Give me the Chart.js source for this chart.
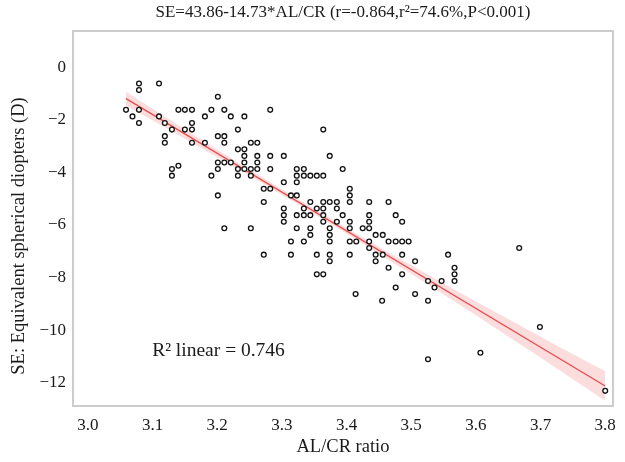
<!DOCTYPE html>
<html>
<head>
<meta charset="utf-8">
<script src="https://cdn.jsdelivr.net/npm/chart.js@4"></script>
<style>
  html, body { margin: 0; padding: 0; background: #fff; }
  #wrap { width: 625px; height: 462px; }
</style>
</head>
<body>
<div id="wrap"><canvas id="chart" width="625" height="462"></canvas></div>
<script>
// SE values (D), one entry per row of points
const seRows = [-0.625, -0.875, -1.125, -1.625, -1.875, -2.125, -2.375, -2.625, -2.875, -3.125,
    -3.375, -3.625, -3.75, -3.875, -4.125, -4.375, -4.625, -4.875, -5.125, -5.375,
    -5.625, -5.875, -6.125, -6.375, -6.625, -6.875, -7.125, -7.375, -7.625, -7.875,
    -8.125, -8.375, -8.625, -8.875, -9.875, -10.85, -11.1, -12.3];

// AL/CR ratios for each SE row
const alcrRows = [
    [3.079, 3.110],
    [3.079],
    [3.201],
    [3.059, 3.079, 3.140, 3.150, 3.161, 3.191, 3.211, 3.282],
    [3.069, 3.110, 3.181, 3.221, 3.242],
    [3.079, 3.119, 3.161],
    [3.130, 3.150, 3.161, 3.232, 3.364],
    [3.119, 3.201, 3.211],
    [3.119, 3.161, 3.181, 3.211, 3.252, 3.262],
    [3.232, 3.242],
    [3.242, 3.262, 3.282, 3.303, 3.374],
    [3.201, 3.211, 3.221, 3.242, 3.262],
    [3.140],
    [3.130, 3.201, 3.232, 3.242, 3.252, 3.262, 3.282, 3.323, 3.334, 3.394],
    [3.130, 3.191, 3.232, 3.252, 3.323, 3.334, 3.344, 3.354, 3.364],
    [3.303, 3.323],
    [3.272, 3.282, 3.405],
    [3.201, 3.314, 3.323, 3.405],
    [3.272, 3.344, 3.364, 3.374, 3.385, 3.405, 3.435, 3.465],
    [3.303, 3.334, 3.354, 3.364, 3.385],
    [3.303, 3.323, 3.334, 3.344, 3.364, 3.394, 3.435, 3.476],
    [3.303, 3.364, 3.385, 3.405, 3.435, 3.486],
    [3.211, 3.252, 3.323, 3.344, 3.374, 3.405, 3.425, 3.435],
    [3.344, 3.374, 3.445, 3.456],
    [3.314, 3.334, 3.374, 3.405, 3.415, 3.435, 3.465, 3.476, 3.486, 3.496],
    [3.435, 3.667],
    [3.272, 3.314, 3.354, 3.374, 3.405, 3.445, 3.456, 3.486, 3.557],
    [3.374, 3.445, 3.506],
    [3.465, 3.567],
    [3.354, 3.364, 3.486, 3.567],
    [3.526, 3.547, 3.567],
    [3.476, 3.536],
    [3.414, 3.506],
    [3.455, 3.526],
    [3.699],
    [3.607],
    [3.526],
    [3.800]
];

// Fitted line from the title: SE = 43.86 - 14.73 * AL/CR
const fitIntercept = 43.86;
const fitSlope = -14.73;
const fitX = [3.059, 3.800];

// 95% CI band half-width (D)
const bandX = [3.059, 3.15, 3.25, 3.35, 3.45, 3.55, 3.65, 3.72, 3.80];
const bandHalf = [0.26, 0.18, 0.12, 0.10, 0.13, 0.21, 0.33, 0.43, 0.56];

const xTicks = [3.0, 3.1, 3.2, 3.3, 3.4, 3.5, 3.6, 3.7, 3.8];
const yTicks = [0, -2, -4, -6, -8, -10, -12];

const titleText = 'SE=43.86-14.73*AL/CR (r=-0.864,r\u00b2=74.6%,P<0.001)';
const r2Text = 'R\u00b2 linear = 0.746';

const serif = '"Liberation Serif", "DejaVu Serif", serif';

// Build point list
const points = [];
seRows.forEach((se, i) => {
    alcrRows[i].forEach(r => points.push({ x: r, y: se }));
});

const fitLine = fitX.map(x => ({ x: x, y: fitIntercept + fitSlope * x }));
const bandLow = bandX.map((x, i) => ({ x: x, y: fitIntercept + fitSlope * x - bandHalf[i] }));
const bandHigh = bandX.map((x, i) => ({ x: x, y: fitIntercept + fitSlope * x + bandHalf[i] }));

// Frame and free text
const decorPlugin = {
    id: 'decor',
    beforeDatasetsDraw(chart) {
        const { ctx, chartArea: a } = chart;
        ctx.save();
        ctx.strokeStyle = '#cccccc';
        ctx.lineWidth = 2;
        ctx.strokeRect(a.left, a.top, a.right - a.left, a.bottom - a.top);
        ctx.restore();
    },
    afterDraw(chart) {
        const { ctx, chartArea: a, scales } = chart;
        const cx = (a.left + a.right) / 2;
        ctx.save();
        ctx.fillStyle = '#1a1a1a';
        ctx.textAlign = 'center';
        ctx.textBaseline = 'middle';

        ctx.font = '17px ' + serif;
        ctx.fillText(titleText, cx, 13);

        ctx.font = '18.5px ' + serif;
        ctx.fillText('AL/CR ratio', cx, 447);

        ctx.font = '19.5px ' + serif;
        ctx.fillText(r2Text, scales.x.getPixelForValue(3.202), scales.y.getPixelForValue(-10.79));

        ctx.font = '18.5px ' + serif;
        ctx.translate(19, 236);
        ctx.rotate(-Math.PI / 2);
        ctx.fillText('SE: Equivalent spherical diopters (D)', 0, 0);
        ctx.restore();
    }
};

new Chart(document.getElementById('chart'), {
    type: 'scatter',
    data: {
        datasets: [
            {
                data: points,
                order: 0,
                pointRadius: 2.4,
                pointBorderWidth: 1.3,
                pointBorderColor: '#111',
                pointBackgroundColor: '#fff'
            },
            {
                type: 'line',
                data: fitLine,
                order: 1,
                borderColor: '#e8474a',
                borderWidth: 1.2,
                pointRadius: 0,
                fill: false
            },
            {
                type: 'line',
                data: bandLow,
                order: 3,
                borderWidth: 0,
                pointRadius: 0,
                cubicInterpolationMode: 'monotone',
                fill: false
            },
            {
                type: 'line',
                data: bandHigh,
                order: 2,
                borderWidth: 0,
                pointRadius: 0,
                cubicInterpolationMode: 'monotone',
                backgroundColor: 'rgba(247, 170, 170, 0.4)',
                fill: '-1'
            }
        ]
    },
    options: {
        responsive: false,
        animation: false,
        events: [],
        layout: { padding: { top: 31, right: 11, left: 0, bottom: 0 } },
        plugins: {
            legend: { display: false },
            tooltip: { enabled: false },
            title: { display: false }
        },
        scales: {
            x: {
                type: 'linear',
                min: 2.977,
                max: 3.812,
                grid: { display: false, drawTicks: false },
                border: { display: false },
                afterFit: s => { s.height = 56; },
                afterBuildTicks: s => { s.ticks = xTicks.map(v => ({ value: v })); },
                ticks: {
                    padding: 9,
                    color: '#1a1a1a',
                    font: { family: serif, size: 17 },
                    maxRotation: 0,
                    callback: v => v.toFixed(1)
                }
            },
            y: {
                type: 'linear',
                min: -12.875,
                max: 1.37,
                grid: { display: false, drawTicks: false },
                border: { display: false },
                afterFit: s => { s.width = 73; },
                afterBuildTicks: s => { s.ticks = yTicks.map(v => ({ value: v })); },
                ticks: {
                    padding: 7,
                    color: '#1a1a1a',
                    font: { family: serif, size: 17 },
                    callback: v => (v < 0 ? '\u2212' + Math.abs(v) : String(v))
                }
            }
        }
    },
    plugins: [decorPlugin]
});
</script>
</body>
</html>
